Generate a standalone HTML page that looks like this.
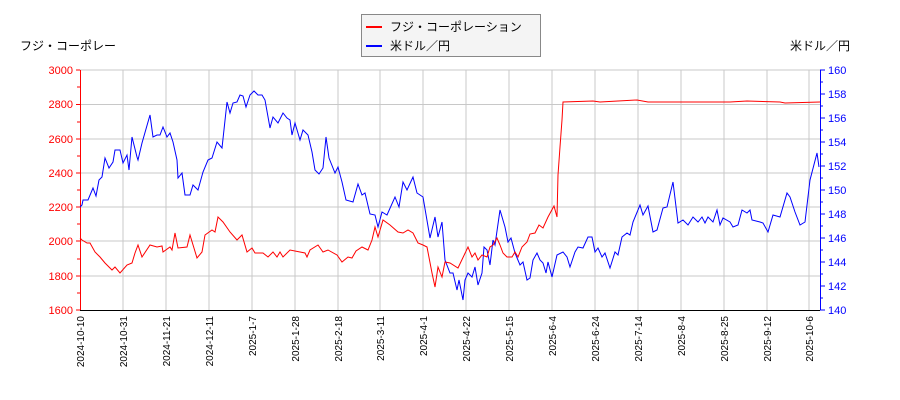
<!DOCTYPE html>
<html><head><meta charset="utf-8"><style>
body{margin:0;background:#fff;}
svg{display:block;font-family:"Liberation Sans","Noto Sans CJK JP",sans-serif;}
</style></head><body>
<svg width="900" height="400" viewBox="0 0 900 400" xmlns="http://www.w3.org/2000/svg">
<rect width="900" height="400" fill="#fff"/>
<g stroke="#c8c8c8" stroke-width="1">
<line x1="80" y1="104.5" x2="820" y2="104.5"/><line x1="80" y1="139" x2="820" y2="139"/>
<line x1="80" y1="173" x2="820" y2="173"/><line x1="80" y1="207" x2="820" y2="207"/>
<line x1="80" y1="241" x2="820" y2="241"/><line x1="80" y1="276" x2="820" y2="276"/>
<line x1="80" y1="70" x2="820" y2="70"/>
<line x1="123" y1="70" x2="123" y2="310"/><line x1="166" y1="70" x2="166" y2="310"/>
<line x1="209" y1="70" x2="209" y2="310"/><line x1="252" y1="70" x2="252" y2="310"/>
<line x1="295" y1="70" x2="295" y2="310"/><line x1="338" y1="70" x2="338" y2="310"/>
<line x1="380" y1="70" x2="380" y2="310"/><line x1="423" y1="70" x2="423" y2="310"/>
<line x1="466" y1="70" x2="466" y2="310"/><line x1="509" y1="70" x2="509" y2="310"/>
<line x1="552" y1="70" x2="552" y2="310"/><line x1="595" y1="70" x2="595" y2="310"/>
<line x1="638" y1="70" x2="638" y2="310"/><line x1="681" y1="70" x2="681" y2="310"/>
<line x1="724" y1="70" x2="724" y2="310"/><line x1="767" y1="70" x2="767" y2="310"/>
<line x1="809" y1="70" x2="809" y2="310"/>
</g>
<line x1="80" y1="310.5" x2="820" y2="310.5" stroke="#000"/>
<line x1="80.5" y1="70" x2="80.5" y2="310" stroke="#f00"/>
<line x1="820.5" y1="70" x2="820.5" y2="310" stroke="#00f"/>
<g stroke="#f00">
<line x1="76" y1="70" x2="80" y2="70"/><line x1="76" y1="104.5" x2="80" y2="104.5"/><line x1="76" y1="139" x2="80" y2="139"/><line x1="76" y1="173" x2="80" y2="173"/><line x1="76" y1="207" x2="80" y2="207"/><line x1="76" y1="241" x2="80" y2="241"/><line x1="76" y1="276" x2="80" y2="276"/><line x1="76" y1="310" x2="80" y2="310"/>
<line x1="77" y1="87" x2="80" y2="87"/><line x1="77" y1="122" x2="80" y2="122"/><line x1="77" y1="156" x2="80" y2="156"/><line x1="77" y1="190" x2="80" y2="190"/><line x1="77" y1="224" x2="80" y2="224"/><line x1="77" y1="259" x2="80" y2="259"/><line x1="77" y1="293" x2="80" y2="293"/>
</g>
<g stroke="#00f">
<line x1="820" y1="70" x2="825" y2="70"/><line x1="820" y1="94" x2="825" y2="94"/><line x1="820" y1="118" x2="825" y2="118"/><line x1="820" y1="142" x2="825" y2="142"/><line x1="820" y1="166" x2="825" y2="166"/><line x1="820" y1="190" x2="825" y2="190"/><line x1="820" y1="214" x2="825" y2="214"/><line x1="820" y1="238" x2="825" y2="238"/><line x1="820" y1="262" x2="825" y2="262"/><line x1="820" y1="286" x2="825" y2="286"/><line x1="820" y1="310" x2="825" y2="310"/>
<line x1="820" y1="82" x2="823" y2="82"/><line x1="820" y1="106" x2="823" y2="106"/><line x1="820" y1="130" x2="823" y2="130"/><line x1="820" y1="154" x2="823" y2="154"/><line x1="820" y1="178" x2="823" y2="178"/><line x1="820" y1="202" x2="823" y2="202"/><line x1="820" y1="226" x2="823" y2="226"/><line x1="820" y1="250" x2="823" y2="250"/><line x1="820" y1="274" x2="823" y2="274"/><line x1="820" y1="298" x2="823" y2="298"/>
</g>
<g font-size="11" fill="#f00" text-anchor="end">
<text x="73" y="74">3000</text><text x="73" y="108">2800</text><text x="73" y="143">2600</text><text x="73" y="177">2400</text><text x="73" y="211">2200</text><text x="73" y="245">2000</text><text x="73" y="280">1800</text><text x="73" y="314">1600</text>
</g>
<g font-size="11" fill="#00f">
<text x="828" y="74">160</text><text x="828" y="98">158</text><text x="828" y="122">156</text><text x="828" y="146">154</text><text x="828" y="170">152</text><text x="828" y="194">150</text><text x="828" y="218">148</text><text x="828" y="242">146</text><text x="828" y="266">144</text><text x="828" y="290">142</text><text x="828" y="314">140</text>
</g>
<g font-size="10" fill="#000" text-anchor="end">
<text transform="translate(84,316) rotate(-90)">2024-10-10</text>
<text transform="translate(127,316) rotate(-90)">2024-10-31</text>
<text transform="translate(170,316) rotate(-90)">2024-11-21</text>
<text transform="translate(213,316) rotate(-90)">2024-12-11</text>
<text transform="translate(256,316) rotate(-90)">2025-1-7</text>
<text transform="translate(299,316) rotate(-90)">2025-1-28</text>
<text transform="translate(342,316) rotate(-90)">2025-2-18</text>
<text transform="translate(384,316) rotate(-90)">2025-3-11</text>
<text transform="translate(427,316) rotate(-90)">2025-4-1</text>
<text transform="translate(470,316) rotate(-90)">2025-4-22</text>
<text transform="translate(513,316) rotate(-90)">2025-5-15</text>
<text transform="translate(556,316) rotate(-90)">2025-6-4</text>
<text transform="translate(599,316) rotate(-90)">2025-6-24</text>
<text transform="translate(642,316) rotate(-90)">2025-7-14</text>
<text transform="translate(685,316) rotate(-90)">2025-8-4</text>
<text transform="translate(728,316) rotate(-90)">2025-8-25</text>
<text transform="translate(771,316) rotate(-90)">2025-9-12</text>
<text transform="translate(813,316) rotate(-90)">2025-10-6</text>
</g>
<polyline fill="none" stroke="#00f" stroke-width="1" points="80,207 82,205 83,200 88,200 93,188 96,196 99,180 102,177 105,158 109,168 113,162 115,150 120,150 123,163 127,155 129,170 132,137 137,157 138,160 142,143 150,115 153,137 157,135 160,135 163,127 167,137 170,133 173,142 177,160 178,178 182,173 185,195 190,195 193,185 198,190 203,172 208,160 212,158 217,142 222,148 227,102 230,113 233,103 237,102 240,95 243,96 246,107 250,95 254,91 258,95 262,95 265,100 270,128 273,117 278,123 283,113 287,118 290,120 292,135 295,123 300,140 303,130 308,135 312,152 315,170 319,174 323,168 326,137 329,158 335,173 338,167 342,182 346,200 353,202 358,184 362,195 365,193 370,214 375,215 378,227 382,212 387,215 395,197 399,207 403,182 407,190 413,177 417,193 423,197 430,238 435,217 438,237 442,222 445,260 450,273 453,273 457,290 459,280 463,300 465,280 468,273 472,277 475,267 478,285 482,273 484,247 487,250 490,265 493,240 495,245 500,210 505,227 508,242 511,238 515,253 520,265 523,262 527,280 530,278 533,260 537,253 540,260 543,263 546,273 548,262 552,277 557,255 563,252 567,257 570,267 575,252 578,247 583,248 588,237 592,237 595,252 598,248 602,257 605,253 610,268 615,252 618,255 622,237 627,233 630,235 633,222 640,205 643,215 648,206 653,232 657,230 663,208 667,207 673,182 678,223 683,220 688,225 693,217 698,222 702,217 705,223 708,217 713,222 717,210 720,225 723,218 730,222 733,227 738,225 742,210 747,213 750,210 752,220 760,222 763,223 768,232 773,215 780,217 787,193 790,197 795,212 800,225 805,222 810,180 817,153 819,167"/>
<polyline fill="none" stroke="#f00" stroke-width="1" points="80,238 82,240 87,243 90,243 95,252 100,257 105,263 112,270 115,267 120,273 127,265 132,263 135,253 138,245 142,257 150,245 157,247 162,246 163,252 170,247 172,250 175,233 178,248 187,247 190,235 197,258 202,252 205,235 212,230 215,232 218,217 223,222 230,232 237,240 242,235 247,252 252,248 255,253 263,253 268,257 273,252 277,257 280,252 283,257 290,250 300,252 305,253 307,257 310,250 318,245 323,252 328,250 337,255 342,262 348,257 352,258 356,251 362,247 368,250 372,240 375,227 378,237 383,220 390,225 398,232 403,233 408,230 413,233 418,243 423,245 427,247 432,273 435,287 438,267 442,277 445,262 450,263 458,268 468,247 472,257 475,253 478,260 482,255 487,257 490,247 493,245 497,238 500,245 503,253 507,257 512,257 515,252 518,257 522,247 527,242 530,234 535,233 539,225 543,228 548,217 554,206 557,217 558,175 560,147 562,120 563,102 593,101 600,102 637,100 648,102 730,102 747,101 780,102 785,103 820,102"/>
<text x="20" y="50" font-size="12" fill="#000">フジ・コーポレー</text>
<text x="850" y="50" font-size="12" fill="#000" text-anchor="end">米ドル／円</text>
<rect x="361.5" y="14.5" width="179" height="42" fill="#f4f4f4" stroke="#888"/>
<line x1="366" y1="27" x2="382" y2="27" stroke="#f00" stroke-width="2"/>
<line x1="366" y1="46" x2="382" y2="46" stroke="#00f" stroke-width="2"/>
<text x="390" y="31" font-size="12" fill="#000">フジ・コーポレーション</text>
<text x="390" y="50" font-size="12" fill="#000">米ドル／円</text>
</svg>
</body></html>
